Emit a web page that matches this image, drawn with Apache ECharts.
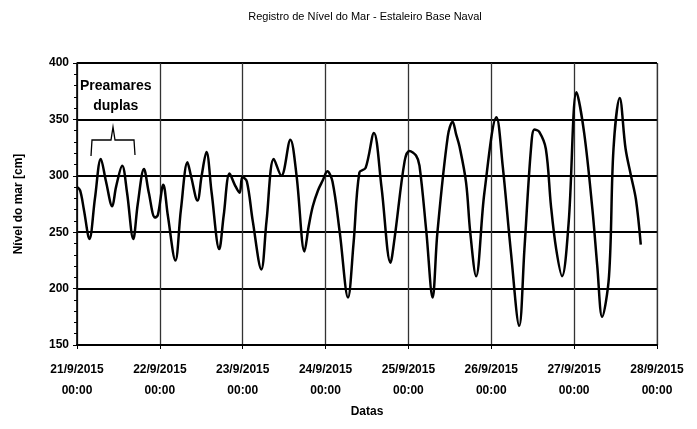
<!DOCTYPE html>
<html><head><meta charset="utf-8">
<script src="https://cdn.jsdelivr.net/npm/echarts@6/dist/echarts.min.js"></script>
<style>html,body{margin:0;padding:0;background:#fff}#c{width:697px;height:429px}</style>
</head><body><div id="c"></div>
<script>
// hours since 21/9/2015 00:00
var hours = [0,0.9,2.0,3.6,5.2,6.9,8.4,10.2,11.3,13.1,14.5,16.3,17.6,19.4,20.8,22.6,23.4,25.0,26.3,28.5,30.1,32.0,33.0,34.9,36.1,37.5,39.0,41.2,42.5,44.2,45.7,47.1,47.9,49.2,50.9,53.4,54.9,57.0,59.2,61.8,63.6,65.9,67.1,68.3,69.8,71.2,72.5,74.0,76.1,78.5,80.1,81.8,83.6,86.0,88.2,90.8,92.0,94.9,96.3,98.2,99.2,101.2,103.0,104.4,107.4,108.8,109.8,110.8,112.7,113.9,115.6,118.0,121.5,123.3,125.7,128.1,129.6,131.5,132.5,133.9,135.8,137.3,138.8,140.5,142.4,144.7,146.9,149.3,150.7,152.1,154.1,155.4,157.2,158.9,160.4,161.9,163.3];
var levels = [290,287,270,244,280,315,295,273,290,309,285,244,275,306,285,263,265,292,265,225,270,312,300,278,300,321,285,235,265,302,292,285,299,295,260,217,260,315,300,332,300,233,255,273,287,296,304,295,250,192,240,303,307,338,290,223,245,313,322,318,309,250,192,250,335,348,337,326,294,250,211,285,352,309,232,167,235,324,341,339,324,273,235,211,258,374,338,270,220,175,211,324,369,324,301,279,239];
var dateLabels = ['21/9/2015\n00:00','22/9/2015\n00:00','23/9/2015\n00:00','24/9/2015\n00:00','25/9/2015\n00:00','26/9/2015\n00:00','27/9/2015\n00:00','28/9/2015\n00:00'];
var yTicks = [150,200,250,300,350,400];
var titleText = 'Registro de Nível do Mar - Estaleiro Base Naval';
var yName = 'Nível do mar [cm]';
var xName = 'Datas';
var noteText = 'Preamares\nduplas';

var data = hours.map(function(h,i){return [h, levels[i]];});
var FONT = '"Liberation Sans Narrow","Liberation Sans",Arial,sans-serif';
var chart = echarts.init(document.getElementById('c'));
chart.setOption({
  animation:false,
  backgroundColor:'#fff',
  title:{text:titleText,left:360,textAlign:'center',top:6,
    textStyle:{fontFamily:FONT,fontSize:11,fontWeight:'normal',color:'#000'}},
  grid:{left:77,right:40,top:63,bottom:84,show:true,borderColor:'#999',borderWidth:1},
  xAxis:{type:'value',min:0,max:168,interval:24,
    name:xName,nameLocation:'middle',nameGap:59,
    nameTextStyle:{fontFamily:FONT,fontSize:12,fontWeight:'bold',color:'#000'},
    axisLine:{show:true,lineStyle:{color:'#000',width:2}},
    axisTick:{show:true,inside:false,length:4,lineStyle:{color:'#000'}},
    axisLabel:{fontFamily:FONT,fontSize:12,fontWeight:'bold',color:'#000',lineHeight:21,margin:14,
      formatter:function(v){return dateLabels[Math.round(v/24)]||'';}},
    splitLine:{show:true,lineStyle:{color:'#333',width:1.3}}},
  yAxis:{type:'value',min:yTicks[0],max:yTicks[yTicks.length-1],interval:50,
    name:yName,nameLocation:'middle',nameGap:52,nameRotate:90,
    nameTextStyle:{fontFamily:FONT,fontSize:12,fontWeight:'bold',color:'#000'},
    axisLine:{show:true,lineStyle:{color:'#000',width:1.5}},
    axisTick:{show:true,length:4,lineStyle:{color:'#000'}},
    minorTick:{show:true,splitNumber:5,length:3,lineStyle:{color:'#000'}},
    axisLabel:{fontFamily:FONT,fontSize:12,fontWeight:'bold',color:'#000',margin:8},
    splitLine:{show:true,lineStyle:{color:'#000',width:2}}},
  graphic:[
    {type:'text',left:80,top:76,style:{text:noteText,fontFamily:FONT,fontSize:14,fontWeight:'bold',fill:'#000',
      textAlign:'center',lineHeight:20,x:32,y:0}},
    {type:'polyline',shape:{points:[[91,156],[92,140],[111,140],[113,127],[115,140],[134,140],[135,155]]},
      style:{stroke:'#000',lineWidth:1.3,fill:null}}
  ],
  series:[{type:'line',data:data,smooth:0.35,showSymbol:false,
    lineStyle:{color:'#000',width:2.5}}]
});
</script></body></html>
